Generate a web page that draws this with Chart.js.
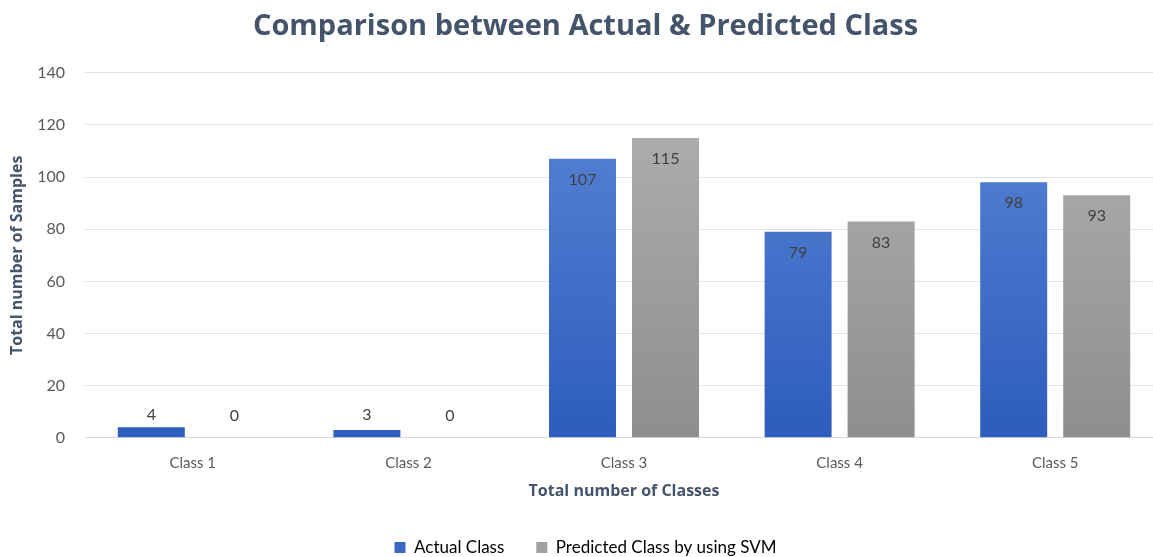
<!DOCTYPE html>
<html>
<head>
<meta charset="utf-8">
<script src="https://cdn.jsdelivr.net/npm/chart.js@4"></script>
<style>
  html, body { margin: 0; padding: 0; background: #fff; overflow: hidden; }
  #frame { width: 1153px; height: 557px; overflow: hidden; }
  #wrap { width: 1166px; height: 557px; }
</style>
</head>
<body>
<div id="frame"><div id="wrap"><canvas id="chart"></canvas></div></div>
<script>
const classes = ['Class 1', 'Class 2', 'Class 3', 'Class 4', 'Class 5'];
const actualClass = [4, 3, 107, 79, 98];
const predictedSvm = [0, 0, 115, 83, 93];
const yTicks = [0, 20, 40, 60, 80, 100, 120, 140];

const FONT = 'Lato, "Open Sans", sans-serif';
const HEAD = '"Open Sans", Lato, sans-serif';

function gradient(ctx, top, bottom) {
  const area = ctx.chart.chartArea;
  if (!area) return bottom;
  const g = ctx.chart.ctx.createLinearGradient(0, area.top, 0, area.bottom);
  g.addColorStop(0, top);
  g.addColorStop(1, bottom);
  return g;
}

// value labels: inside top of tall bars, on one line above the axis for short ones
const barLabels = {
  id: 'barLabels',
  afterDatasetsDraw(chart) {
    const c = chart.ctx;
    c.save();
    c.font = '16px ' + FONT;
    c.fillStyle = '#404040';
    c.textAlign = 'center';
    c.textBaseline = 'middle';
    chart.data.datasets.forEach((ds, i) => {
      chart.getDatasetMeta(i).data.forEach((bar, j) => {
        const h = bar.base - bar.y;
        const y = h > 30 ? bar.y + 21 : bar.base - 22;
        c.fillText(ds.data[j], bar.x, y);
      });
    });
    c.restore();
  }
};

new Chart(document.getElementById('chart'), {
  type: 'bar',
  data: {
    labels: classes,
    datasets: [
      {
        label: 'Actual Class',
        data: actualClass,
        backgroundColor: ctx => gradient(ctx, '#5B87D6', '#2D5DBD'),
        borderWidth: 0
      },
      {
        label: 'Predicted Class by using SVM',
        data: predictedSvm,
        backgroundColor: ctx => gradient(ctx, '#B2B2B2', '#8E8E8E'),
        borderWidth: 0
      }
    ]
  },
  options: {
    responsive: true,
    maintainAspectRatio: false,
    animation: false,
    layout: { padding: { left: 8, right: 3, top: 0, bottom: 0 } },
    datasets: { bar: { categoryPercentage: 0.77, barPercentage: 0.807 } },
    scales: {
      x: {
        grid: { display: false },
        border: { color: '#D9D9D9' },
        ticks: { color: '#595959', font: { family: FONT, size: 15 }, padding: 8 },
        title: {
          display: true,
          text: 'Total number of Classes',
          color: '#44546A',
          font: { family: HEAD, size: 16, weight: 'bold' },
          padding: { top: 2, bottom: 6 }
        }
      },
      y: {
        min: 0,
        max: 140,
        afterBuildTicks: axis => { axis.ticks = yTicks.map(v => ({ value: v })); },
        afterFit: axis => { axis.width = 77; },
        grid: { color: '#E1E3E8', drawTicks: false },
        border: { display: false },
        ticks: { color: '#595959', font: { family: FONT, size: 16 }, padding: 20 },
        title: {
          display: true,
          text: 'Total number of Samples',
          color: '#44546A',
          font: { family: HEAD, size: 16, weight: 'bold' },
          padding: { top: 0, bottom: 9 }
        }
      }
    },
    plugins: {
      title: {
        display: true,
        text: 'Comparison between Actual & Predicted Class',
        color: '#44546A',
        font: { family: HEAD, size: 29, weight: 'bold' },
        padding: { top: 9, bottom: 29 }
      },
      legend: {
        position: 'bottom',
        maxHeight: 50,
        labels: {
          color: '#595959',
          font: { family: FONT, size: 17 },
          boxWidth: 11,
          boxHeight: 11,
          padding: 32,
          generateLabels: chart => chart.data.datasets.map((ds, i) => ({
            text: ds.label,
            fillStyle: i === 0 ? '#3A67C8' : '#A0A0A0',
            strokeStyle: i === 0 ? '#3A67C8' : '#A0A0A0',
            lineWidth: 0,
            datasetIndex: i
          }))
        }
      },
      tooltip: { enabled: false }
    }
  },
  plugins: [barLabels]
});
</script>
</body>
</html>
